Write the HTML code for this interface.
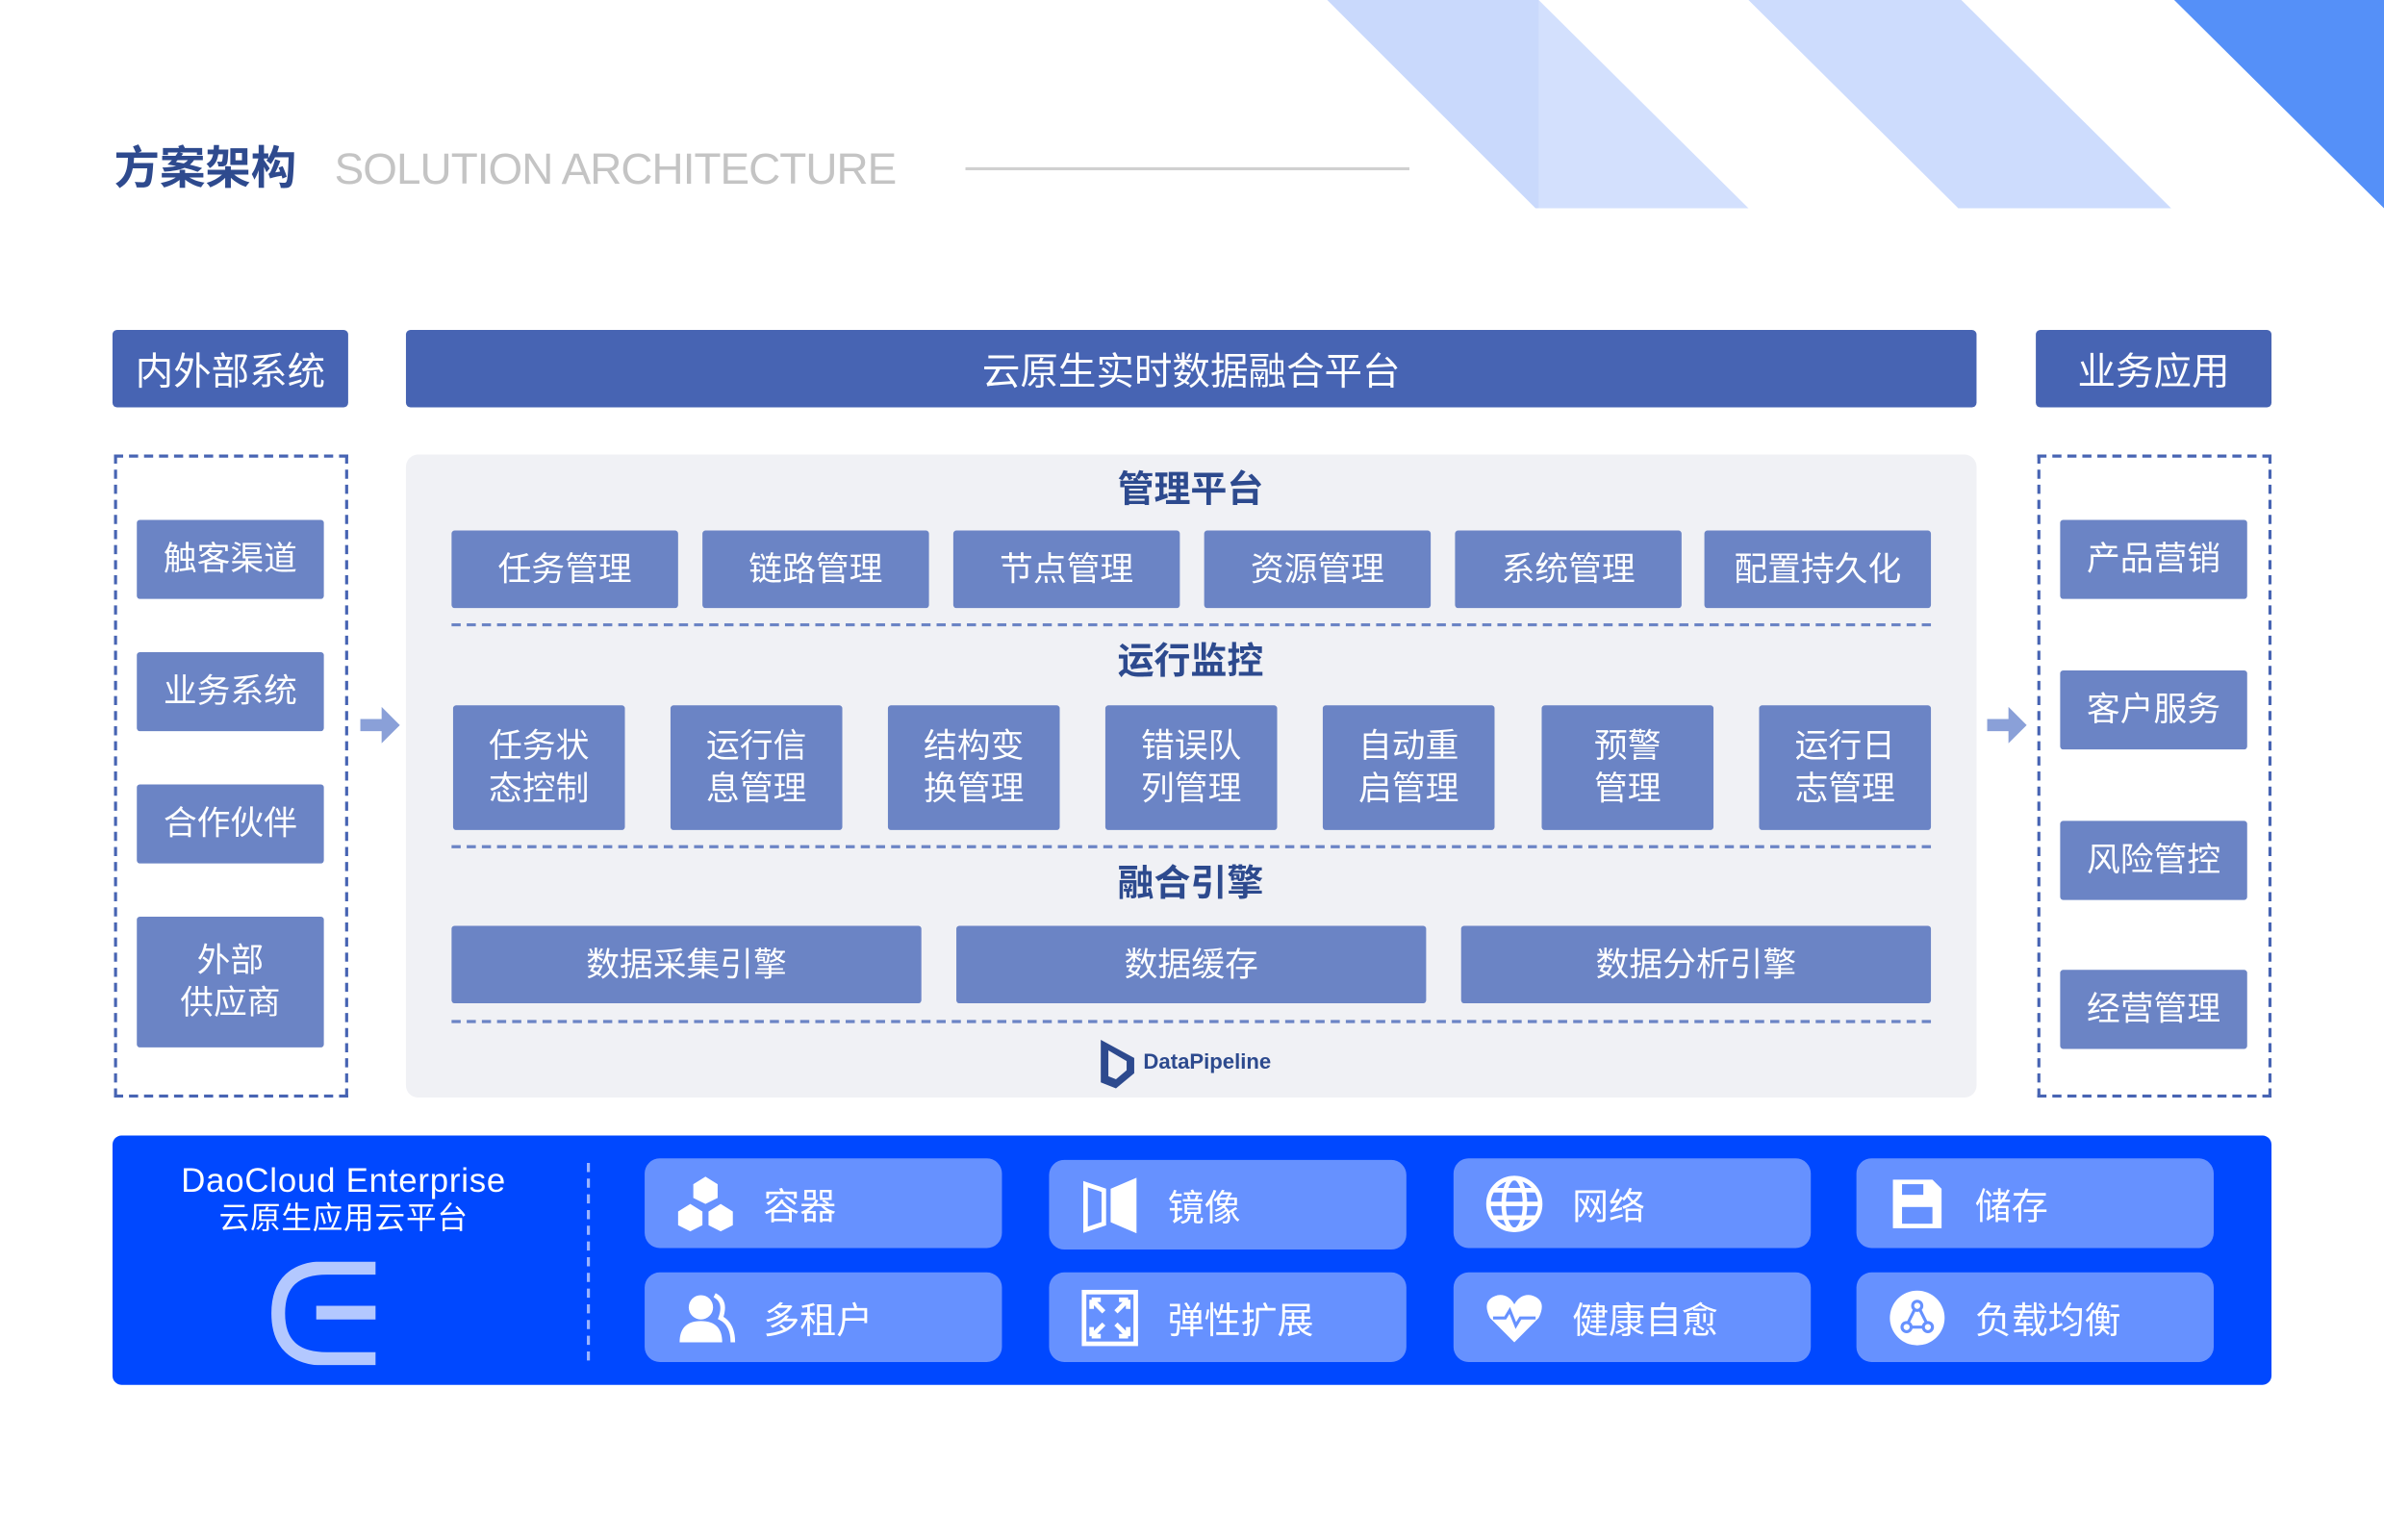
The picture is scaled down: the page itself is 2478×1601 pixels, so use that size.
<!DOCTYPE html>
<html><head><meta charset="utf-8"><style>
html,body{margin:0;padding:0;background:#fff;overflow:hidden}
#w{position:absolute;left:0;top:0;width:1568px;height:1013px;transform:scale(1.58036);transform-origin:0 0;font-family:"Liberation Sans","Noto Sans CJK SC",sans-serif}
.a{position:absolute;box-sizing:border-box}
.h{background:#4764b3;color:#fff;font-size:25px;display:flex;align-items:center;justify-content:center;border-radius:3px}
.b{background:#6b84c5;color:#fff;font-size:22px;display:flex;align-items:center;justify-content:center;text-align:center;line-height:28px;border-radius:2px}
.t{color:#2d4a8e;font-size:24px;font-weight:bold;text-align:center;width:400px;left:583px;line-height:30px}
.dl{position:absolute;left:297px;width:973px;border-top:2px dashed #6b84c5;height:0}
.tile{background:#6691ff;border-radius:10px;color:#fff;font-size:24px;display:flex;align-items:center}
.tile svg{margin-left:20px;margin-right:18px}
</style></head><body><div id="w">
<svg class="a" style="left:0;top:0" width="1568" height="140">
<polygon points="873,0 1012,0 1150,137 1010,137" fill="#d3e0fd"/>
<polygon points="873,0 1012,0 1012,137 1010,137" fill="#c9d9fc"/>
<polygon points="1150,0 1290,0 1428,137 1288,137" fill="#cddcfd"/>
<polygon points="1430,0 1568,0 1568,137" fill="#5590f8"/>
</svg>
<div class="a" style="left:75px;top:92px;font-size:30px;font-weight:bold;color:#2e4a8e;line-height:40px">方案架构</div>
<div class="a" style="left:220px;top:92px;font-size:29px;color:#c4c4c4;line-height:40px;letter-spacing:-0.6px">SOLUTION ARCHITECTURE</div>
<div class="a" style="left:635px;top:110px;width:292px;height:2px;background:#d0d0d0"></div>

<div class="a h" style="left:74px;top:217px;width:155px;height:51px">内外部系统</div>
<div class="a h" style="left:267px;top:217px;width:1033px;height:51px">云原生实时数据融合平台</div>
<div class="a h" style="left:1339px;top:217px;width:155px;height:51px">业务应用</div>

<div class="a" style="left:75px;top:299px;width:154px;height:423px;border:2px dashed #4764b3"></div>
<div class="a b" style="left:90px;top:342px;width:123px;height:52px">触客渠道</div>
<div class="a b" style="left:90px;top:429px;width:123px;height:52px">业务系统</div>
<div class="a b" style="left:90px;top:516px;width:123px;height:52px">合作伙伴</div>
<div class="a b" style="left:90px;top:603px;width:123px;height:86px">外部<br>供应商</div>

<div class="a" style="left:1340px;top:299px;width:154px;height:423px;border:2px dashed #4764b3"></div>
<div class="a b" style="left:1355px;top:342px;width:123px;height:52px">产品营销</div>
<div class="a b" style="left:1355px;top:441px;width:123px;height:52px">客户服务</div>
<div class="a b" style="left:1355px;top:540px;width:123px;height:52px">风险管控</div>
<div class="a b" style="left:1355px;top:638px;width:123px;height:52px">经营管理</div>

<svg class="a" style="left:235px;top:462px" width="30" height="30"><polygon points="2,11 16,11 16,3 28,15 16,27 16,19 2,19" fill="#8aa0d8"/></svg>
<svg class="a" style="left:1305px;top:462px" width="30" height="30"><polygon points="2,11 16,11 16,3 28,15 16,27 16,19 2,19" fill="#8aa0d8"/></svg>

<div class="a" style="left:267px;top:299px;width:1033px;height:423px;background:#f0f1f5;border-radius:8px"></div>
<div class="a t" style="top:308px">管理平台</div>
<div class="a b" style="left:297px;top:349px;width:149px;height:51px">任务管理</div>
<div class="a b" style="left:462px;top:349px;width:149px;height:51px">链路管理</div>
<div class="a b" style="left:627px;top:349px;width:149px;height:51px">节点管理</div>
<div class="a b" style="left:792px;top:349px;width:149px;height:51px">资源管理</div>
<div class="a b" style="left:957px;top:349px;width:149px;height:51px">系统管理</div>
<div class="a b" style="left:1121px;top:349px;width:149px;height:51px">配置持久化</div>
<div class="dl" style="top:410px"></div>
<div class="a t" style="top:421px">运行监控</div>
<div class="a b" style="left:298px;top:464px;width:113px;height:82px">任务状<br>态控制</div>
<div class="a b" style="left:441px;top:464px;width:113px;height:82px">运行信<br>息管理</div>
<div class="a b" style="left:584px;top:464px;width:113px;height:82px">结构变<br>换管理</div>
<div class="a b" style="left:727px;top:464px;width:113px;height:82px">错误队<br>列管理</div>
<div class="a b" style="left:870px;top:464px;width:113px;height:82px">自动重<br>启管理</div>
<div class="a b" style="left:1014px;top:464px;width:113px;height:82px">预警<br>管理</div>
<div class="a b" style="left:1157px;top:464px;width:113px;height:82px">运行日<br>志管理</div>
<div class="dl" style="top:556px"></div>
<div class="a t" style="top:567px">融合引擎</div>
<div class="a b" style="left:297px;top:609px;width:309px;height:51px">数据采集引擎</div>
<div class="a b" style="left:629px;top:609px;width:309px;height:51px">数据缓存</div>
<div class="a b" style="left:961px;top:609px;width:309px;height:51px">数据分析引擎</div>
<div class="dl" style="top:671px"></div>
<svg class="a" style="left:722px;top:682px" width="26" height="36"><polygon points="2,2 24,14 24,24 12,34 2,30" fill="#2d4a8e"/><polygon points="7,9 19,16 19,22 12,28 7,26" fill="#f0f1f5"/></svg>
<div class="a" style="left:752px;top:690px;font-size:14px;color:#2d4a8e;font-weight:bold">DataPipeline</div>

<div class="a" style="left:74px;top:747px;width:1420px;height:164px;background:#0048ff;border-radius:6px"></div>
<div class="a" style="left:100px;top:765px;width:252px;text-align:center;color:#fff;font-size:22px;line-height:24px;letter-spacing:0.5px">DaoCloud Enterprise<br><span style="font-size:20px">云原生应用云平台</span></div>
<svg class="a" style="left:175px;top:830px" width="75" height="68"><path d="M72,4 H40 Q8,4 8,34 Q8,64 40,64 H72" stroke="#b3c8ff" stroke-width="9" fill="none"/><rect x="33" y="29" width="39" height="9" fill="#b3c8ff"/></svg>
<div class="a" style="left:386px;top:765px;height:130px;border-left:2px dashed #9bb4ff"></div>

<div class="a tile" style="left:424px;top:762px;width:235px;height:59px"><svg width="40" height="40" viewBox="0 0 40 40" fill="#fff"><polygon points="20,2 28,7 28,16 20,20 12,16 12,7"/><polygon points="10,20 18,25 18,34 10,38 2,34 2,25"/><polygon points="30,20 38,25 38,34 30,38 22,34 22,25"/></svg>容器</div>
<div class="a tile" style="left:690px;top:763px;width:235px;height:59px"><svg width="40" height="40" viewBox="0 0 40 40" fill="none" stroke="#fff" stroke-width="3"><path d="M4,6 L16,10 V32 L4,36 Z"/><path d="M22,10 L36,4 V36 L22,30 Z" fill="#fff"/></svg>镜像</div>
<div class="a tile" style="left:956px;top:762px;width:235px;height:59px"><svg width="40" height="40" viewBox="0 0 40 40" fill="none" stroke="#fff" stroke-width="3"><circle cx="20" cy="20" r="17"/><ellipse cx="20" cy="20" rx="7" ry="17"/><path d="M3,20 H37 M6,11 H34 M6,29 H34"/></svg>网络</div>
<div class="a tile" style="left:1221px;top:762px;width:235px;height:59px"><svg width="40" height="40" viewBox="0 0 40 40" fill="#fff"><path d="M4,4 H30 L36,10 V36 H4 Z"/><rect x="10" y="22" width="20" height="11" fill="#6691ff"/><rect x="10" y="7" width="14" height="7" fill="#6691ff"/></svg>储存</div>
<div class="a tile" style="left:424px;top:837px;width:235px;height:59px"><svg width="40" height="40" viewBox="0 0 40 40" fill="#fff"><circle cx="17" cy="13" r="8"/><path d="M3,36 Q3,22 17,22 Q31,22 31,36 Z"/><path d="M26,5 Q34,9 30,20 Q38,24 38,36" stroke="#fff" stroke-width="3" fill="none"/></svg>多租户</div>
<div class="a tile" style="left:690px;top:837px;width:235px;height:59px"><svg width="40" height="40" viewBox="0 0 40 40" fill="none" stroke="#fff" stroke-width="3"><rect x="3" y="3" width="34" height="34"/><path d="M8,8 L16,16 M32,8 L24,16 M8,32 L16,24 M32,32 L24,24 M8,8 h6 M8,8 v6 M32,8 h-6 M32,8 v6 M8,32 h6 M8,32 v-6 M32,32 h-6 M32,32 v-6"/></svg>弹性扩展</div>
<div class="a tile" style="left:956px;top:837px;width:235px;height:59px"><svg width="40" height="40" viewBox="0 0 40 40"><path d="M20,36 L4,20 Q-2,8 9,5 Q16,4 20,11 Q24,4 31,5 Q42,8 36,20 Z" fill="#fff"/><path d="M6,20 H14 L17,15 L21,25 L24,20 H34" stroke="#6691ff" stroke-width="2" fill="none"/></svg>健康自愈</div>
<div class="a tile" style="left:1221px;top:837px;width:235px;height:59px"><svg width="40" height="40" viewBox="0 0 40 40"><circle cx="20" cy="20" r="18" fill="#fff"/><g stroke="#6691ff" stroke-width="2" fill="none"><circle cx="20" cy="12" r="3"/><circle cx="13" cy="26" r="3"/><circle cx="27" cy="26" r="3"/><path d="M18,15 L14,23 M22,15 L26,23 M16,26 H24"/></g></svg>负载均衡</div>
</div></body></html>
